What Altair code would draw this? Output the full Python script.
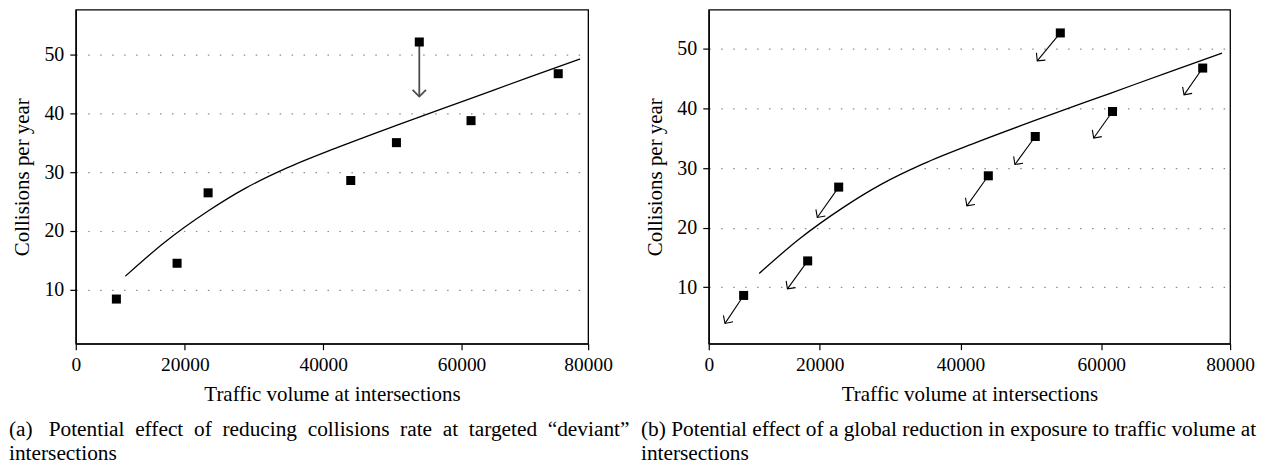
import math
import altair as alt
import pandas as pd

FONT = "Liberation Serif"

# axes
X_DOMAIN = [4230, 78300]
X_TICKS = [4230, 20000, 40000, 60000, 78300]
Y_TICKS = [10, 20, 30, 40, 50]
LEFT_Y_DOMAIN = [0.8, 57.7]
RIGHT_Y_DOMAIN = [0.5, 56.6]

# fitted curve (same in both panels)
CURVE_X = [11400, 17000, 23360, 28780, 34680, 42000, 50585, 61370, 70000, 77150]
CURVE_Y = [12.3, 18.0, 23.4, 27.3, 30.7, 34.2, 38.0, 42.6, 46.3, 49.3]

# panel (a) intersections
A_X = [10100, 18875, 23360, 43980, 50585, 53890, 61370, 73975]
A_Y = [8.4, 14.5, 26.5, 28.6, 35.05, 52.2, 38.8, 46.8]
# targeted "deviant" intersection arrow
A_FROM_X = [53890]
A_FROM_Y = [52.2]
A_TO_Y = [42.9]

# panel (b) intersections and arrow tips
B_X = [9188, 18285, 22690, 43950, 50620, 54180, 61590, 74410]
B_Y = [8.6, 14.4, 26.8, 28.7, 35.3, 52.7, 39.5, 46.8]
B_TIP_X = [6540, 15410, 19650, 40900, 47730, 50900, 58925, 71760]
B_TIP_Y = [3.9, 9.7, 21.7, 23.65, 30.6, 48.0, 35.05, 42.3]

X_TITLE = "Traffic volume at intersections"
Y_TITLE = "Collisions per year"
NB = "\u00a0"
CAP_A = [
    "(a)" + NB + NB + " Potential" + NB + " effect" + NB + " of" + NB + " reducing" + NB + " collisions" + NB
    + " rate" + NB + " at" + NB + " targeted" + NB + " \u201cdeviant\u201d",
    "intersections",
]
CAP_B = [
    "(b) Potential effect of a global reduction in exposure to traffic volume at",
    "intersections",
]

LEFT_W, RIGHT_W, H = 514, 523, 335

CHEVRON = "M -1 -1 L 0 0 L 1 -1"


def angle_deg(x0, y0, x1, y1, w, ydom):
    dx = (x1 - x0) * w / (X_DOMAIN[1] - X_DOMAIN[0])
    dy = -(y1 - y0) * H / (ydom[1] - ydom[0])
    return math.degrees(math.atan2(-dx, dy)) % 360


def panel(w, ydom, pts, arrows, caption, line_color, line_width, head_size, cap_dx):
    xs = alt.X(
        "x:Q",
        scale=alt.Scale(domain=X_DOMAIN, nice=False, zero=False),
        axis=alt.Axis(
            values=X_TICKS,
            labelExpr="datum.value < 10000 ? '0' : (datum.value > 70000 ? '80000' : format(datum.value, 'd'))",
            grid=False,
            title=X_TITLE,
            labelFlush=False,
            labelFont=FONT,
            titleFont=FONT,
            labelFontSize=19.5,
            titleFontSize=21,
            labelPadding=6,
            titlePadding=10,
        ),
    )
    yscale = alt.Scale(domain=ydom, nice=False, zero=False)
    ys = alt.Y(
        "y:Q",
        scale=yscale,
        axis=alt.Axis(
            values=Y_TICKS,
            grid=True,
            title=Y_TITLE,
            labelFont=FONT,
            titleFont=FONT,
            labelFontSize=20,
            titleFontSize=21,
            labelPadding=6,
            titlePadding=11,
        ),
    )
    curve = (
        alt.Chart(pd.DataFrame({"x": CURVE_X, "y": CURVE_Y}))
        .mark_line(color="black", strokeWidth=1.3, interpolate="monotone")
        .encode(x=xs, y=ys)
    )
    rules = (
        alt.Chart(arrows)
        .mark_rule(color=line_color, strokeWidth=line_width)
        .encode(x="x:Q", y="y:Q", x2="tx:Q", y2="ty:Q")
    )
    heads = (
        alt.Chart(arrows)
        .mark_point(shape=CHEVRON, filled=False, color=line_color, strokeWidth=line_width,
                    size=head_size, opacity=1)
        .encode(
            x=alt.X("tx:Q", scale=alt.Scale(domain=X_DOMAIN, nice=False, zero=False)),
            y=alt.Y("ty:Q", scale=yscale),
            angle=alt.Angle("ang:Q", scale=None),
        )
    )
    squares = (
        alt.Chart(pts)
        .mark_square(color="black", size=82, opacity=1)
        .encode(x="x:Q", y="y:Q")
    )
    return alt.layer(curve, rules, heads, squares).properties(
        width=w,
        height=H,
        title=alt.TitleParams(
            text=caption,
            orient="bottom",
            anchor="start",
            frame="group",
            dx=cap_dx,
            offset=14,
            fontSize=21.4,
            font=FONT,
            fontWeight="normal",
            lineHeight=24,
            color="black",
        ),
    )


pts_a = pd.DataFrame({"x": A_X, "y": A_Y})
arr_a = pd.DataFrame({"x": A_FROM_X, "y": A_FROM_Y, "tx": A_FROM_X, "ty": A_TO_Y})
arr_a["ang"] = [angle_deg(r.x, r.y, r.tx, r.ty, LEFT_W, LEFT_Y_DOMAIN) for r in arr_a.itertuples()]

pts_b = pd.DataFrame({"x": B_X, "y": B_Y})
arr_b = pd.DataFrame({"x": B_X, "y": B_Y, "tx": B_TIP_X, "ty": B_TIP_Y})
arr_b["ang"] = [angle_deg(r.x, r.y, r.tx, r.ty, RIGHT_W, RIGHT_Y_DOMAIN) for r in arr_b.itertuples()]

left = panel(LEFT_W, LEFT_Y_DOMAIN, pts_a, arr_a, CAP_A, "#4d4d4d", 1.8, 180, -67)
right = panel(RIGHT_W, RIGHT_Y_DOMAIN, pts_b, arr_b, CAP_B, "black", 1.1, 135, -68)

chart = (
    alt.hconcat(left, right, spacing=121, bounds="flush")
    .properties(padding={"left": 0, "top": 0, "right": 0, "bottom": 0})
    .configure(font=FONT)
    .configure_view(stroke="black", strokeWidth=1.3)
    .configure_axis(
        labelFont=FONT,
        titleFont=FONT,
        titleFontWeight="normal",
        labelColor="black",
        titleColor="black",
        domainColor="black",
        domainWidth=1.3,
        tickColor="black",
        tickWidth=1.2,
        tickSize=6,
        gridColor="#8c8c8c",
        gridDash=[1.5, 10.5],
        gridWidth=1.2,
    )
)

chart.save("out.html", embed_options={"renderer": "svg", "actions": False})
